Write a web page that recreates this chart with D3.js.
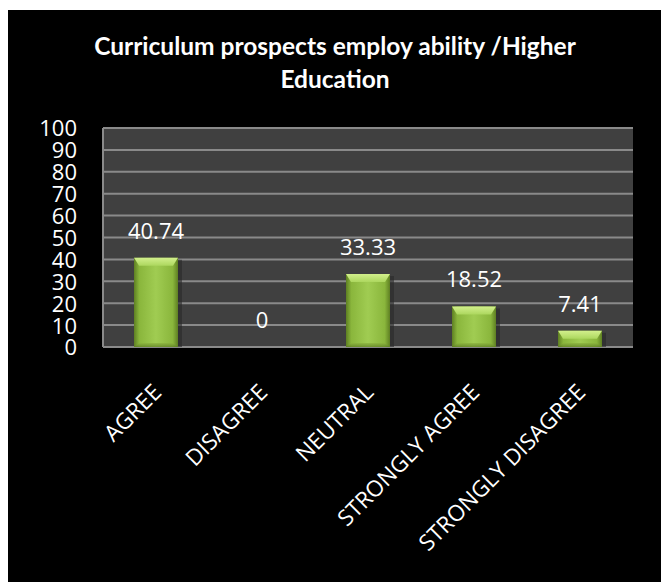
<!DOCTYPE html>
<html><head><meta charset="utf-8">
<script src="https://cdn.jsdelivr.net/npm/d3@7"></script>
<style>html,body{margin:0;padding:0;background:#fff;}svg{display:block;}</style>
</head><body>
<script>
const categories = ["AGREE","DISAGREE","NEUTRAL","STRONGLY AGREE","STRONGLY DISAGREE"];
const values = [40.74, 0, 33.33, 18.52, 7.41];
const valueLabels = ["40.74","0","33.33","18.52","7.41"];
const yTicks = [0,10,20,30,40,50,60,70,80,90,100];
const titleLines = ["Curriculum prospects employ ability /Higher","Education"];

const W = 661, H = 582;
const svg = d3.select("body").append("svg").attr("width", W).attr("height", H);
const defs = svg.append("defs");

// black chart area
svg.append("rect").attr("x", 8).attr("y", 10).attr("width", W - 8).attr("height", H - 10).attr("fill", "#000");

const plot = {left: 103, right: 633, top: 128, bottom: 347};
const x = d3.scaleBand().domain(categories).range([plot.left, plot.right]).paddingInner(0.585).paddingOuter(0.2925);
const y = d3.scaleLinear().domain([0, 100]).range([plot.bottom, plot.top]);

// title
svg.append("g").selectAll("text").data(titleLines).join("text")
  .attr("x", 335).attr("y", (d, i) => 55 + i * 33)
  .attr("text-anchor", "middle").attr("fill", "#fff")
  .attr("font-family", "Lato, 'Open Sans', sans-serif").attr("font-weight", "bold")
  .attr("font-size", 24.5).text(d => d);

// plot background
svg.append("rect").attr("x", plot.left).attr("y", plot.top)
  .attr("width", plot.right - plot.left).attr("height", plot.bottom - plot.top).attr("fill", "#404040");

// gridlines
svg.append("g").selectAll("line").data(yTicks).join("line")
  .attr("x1", plot.left).attr("x2", plot.right)
  .attr("y1", d => y(d)).attr("y2", d => y(d))
  .attr("stroke", "#8a8a8a").attr("stroke-width", 2);

// axes lines
svg.append("line").attr("x1", plot.left).attr("x2", plot.left).attr("y1", plot.top).attr("y2", plot.bottom)
  .attr("stroke", "#8a8a8a").attr("stroke-width", 2);

// y axis labels
const yAxis = d3.axisLeft(y).tickValues(yTicks).tickSize(0).tickPadding(26);
const gy = svg.append("g").attr("transform", `translate(${plot.left},0)`).call(yAxis);
gy.select(".domain").remove();
gy.selectAll("text").attr("fill", "#fff").attr("font-family", "'Open Sans', sans-serif").attr("font-size", 22).attr("dy", "0.36em");

// gradients
const gH = defs.append("linearGradient").attr("id", "barH").attr("x1", 0).attr("x2", 1).attr("y1", 0).attr("y2", 0);
[[0, "#5e7f22"], [0.12, "#8ab63c"], [0.5, "#a0cc52"], [0.88, "#8ab63c"], [1, "#5e7f22"]]
  .forEach(([o, c]) => gH.append("stop").attr("offset", o).attr("stop-color", c));
const gT = defs.append("linearGradient").attr("id", "barT").attr("x1", 0).attr("x2", 0).attr("y1", 0).attr("y2", 1);
[[0, "#d2ef8c"], [1, "#acd75e"]].forEach(([o, c]) => gT.append("stop").attr("offset", o).attr("stop-color", c));
const gB = defs.append("linearGradient").attr("id", "barB").attr("x1", 0).attr("x2", 0).attr("y1", 0).attr("y2", 1);
[[0, "#8bb33f"], [1, "#5a7a20"]].forEach(([o, c]) => gB.append("stop").attr("offset", o).attr("stop-color", c));

const bars = svg.append("g").selectAll("g").data(categories.map((c, i) => ({c, v: values[i], l: valueLabels[i]}))).join("g");
bars.filter(d => d.v > 0).each(function(d) {
  const g = d3.select(this);
  const x0 = x(d.c), bw = x.bandwidth(), yt = y(d.v), yb = y(0), h = yb - yt;
  const bev = Math.min(8, h / 2);
  // shadow
  g.append("rect").attr("x", x0 + 2).attr("y", yt + 2).attr("width", bw + 2).attr("height", h - 2).attr("fill", "#2a2a2a").attr("opacity", 0.6);
  g.append("rect").attr("x", x0).attr("y", yt).attr("width", bw).attr("height", h).attr("fill", "url(#barH)");
  // top bevel
  g.append("polygon").attr("points", [[x0, yt], [x0 + bw, yt], [x0 + bw - 5, yt + bev], [x0 + 5, yt + bev]].map(p => p.join(",")).join(" "))
    .attr("fill", "url(#barT)");
  // bottom bevel
  g.append("polygon").attr("points", [[x0, yb], [x0 + bw, yb], [x0 + bw - 5, yb - 4], [x0 + 5, yb - 4]].map(p => p.join(",")).join(" "))
    .attr("fill", "url(#barB)").attr("opacity", 0.7);
});

// value labels
bars.append("text").attr("x", d => x(d.c) + x.bandwidth() / 2).attr("y", d => y(d.v) - 19)
  .attr("text-anchor", "middle").attr("fill", "#fff")
  .attr("font-family", "'Open Sans', sans-serif").attr("font-size", 22).text(d => d.l);

// x labels
svg.append("g").selectAll("text").data(categories).join("text")
  .attr("transform", d => `translate(${x(d) + x.bandwidth() / 2 + 1},388) rotate(-45)`)
  .attr("text-anchor", "end").attr("dy", "0.36em").attr("fill", "#fff")
  .attr("font-family", "'Open Sans', sans-serif").attr("font-size", 22.5).text(d => d);
</script>
</body></html>
